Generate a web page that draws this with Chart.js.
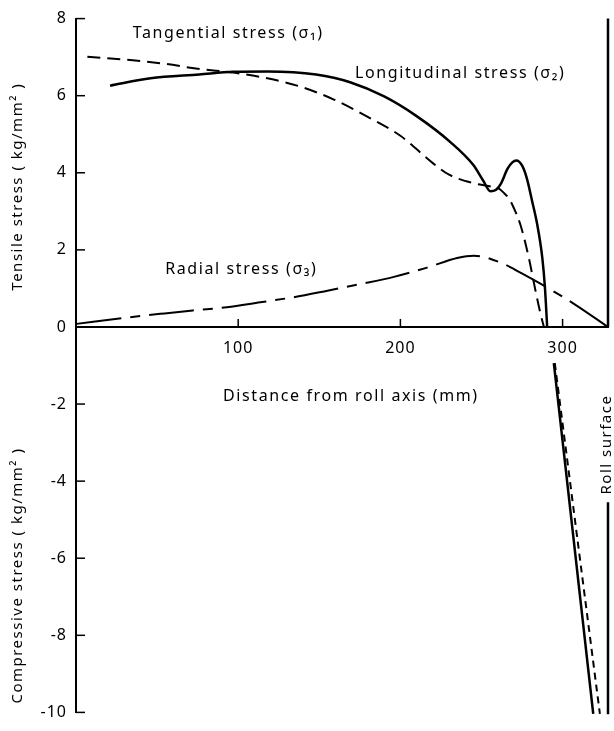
<!DOCTYPE html>
<html>
<head>
<meta charset="utf-8">
<script src="https://cdn.jsdelivr.net/npm/chart.js@4"></script>
<style>
  html, body { margin: 0; padding: 0; background: #fff; }
</style>
</head>
<body>
<canvas id="chart" width="614" height="731"></canvas>
<script>
// distance from roll axis (mm) / stress (kg/mm²)

// longitudinal stress, tensile part
const longDist = [21, 46, 76, 97, 118, 148, 169, 190, 210, 231, 245, 251, 255.5, 259, 262, 266, 269, 271.5, 275, 278, 281.3, 284.4, 287.5, 289.1, 290.5];
const longStress = [6.26, 6.45, 6.55, 6.62, 6.63, 6.55, 6.35, 5.98, 5.47, 4.79, 4.2, 3.8, 3.52, 3.56, 3.72, 4.1, 4.27, 4.32, 4.19, 3.85, 3.25, 2.65, 1.79, 1.03, 0];
// longitudinal stress, compressive part
const longCompDist = [294.6, 318.9];
const longCompStress = [-0.94, -10.04];

// tangential stress
const tangDist = [7, 35, 56, 76.5, 97, 118, 138, 159, 179, 200, 220, 230, 245, 255, 260.7, 264, 267, 270, 274, 279.2, 283.3, 286.4, 288.5];
const tangStress = [7.01, 6.92, 6.82, 6.69, 6.6, 6.45, 6.24, 5.9, 5.47, 4.96, 4.25, 3.95, 3.73, 3.65, 3.59, 3.47, 3.33, 3.08, 2.65, 1.79, 0.94, 0.34, 0];
const tangCompDist = [295.2, 323];
const tangCompStress = [-0.94, -10.04];

// radial stress
const radDist = [0.4, 31, 52, 72, 93, 113.6, 134, 155, 175, 196, 216.5, 235, 245.3, 261.7, 274, 288.5, 307, 328];
const radStress = [0.08, 0.24, 0.34, 0.43, 0.51, 0.64, 0.77, 0.94, 1.11, 1.3, 1.54, 1.79, 1.85, 1.67, 1.41, 1.07, 0.6, 0];

// roll surface
const rollDist = 328;
const rollTop = [0, 8];
const rollBottom = [-4.55, -10.05];

const xTicks = [100, 200, 300];
const yTicks = [8, 6, 4, 2, 0, -2, -4, -6, -8, -10];

const pts = (xs, ys) => xs.map((v, i) => ({ x: v, y: ys[i] }));
const font = '"Noto Sans", sans-serif';

const line = (data, width, dash, smooth) => ({
    data: data,
    borderColor: '#000',
    borderWidth: width,
    borderDash: dash,
    pointRadius: 0,
    fill: false,
    clip: 4,
    cubicInterpolationMode: smooth ? 'monotone' : 'default',
    tension: smooth ? 0.4 : 0
});

// inward tick marks, free labels and rotated titles
const annotate = {
    id: 'annotate',
    beforeDraw(chart) {
        chart.ctx.letterSpacing = '1px';
    },
    afterDraw(chart) {
        const { ctx, scales: { x, y } } = chart;
        const y0 = y.getPixelForValue(0);
        ctx.save();
        ctx.strokeStyle = '#000';
        ctx.lineWidth = 1.5;
        xTicks.forEach(v => {
            const px = x.getPixelForValue(v);
            ctx.beginPath(); ctx.moveTo(px, y0); ctx.lineTo(px, y0 - 8); ctx.stroke();
        });
        yTicks.forEach(v => {
            const py = y.getPixelForValue(v);
            ctx.beginPath(); ctx.moveTo(x.left, py); ctx.lineTo(x.left + 9, py); ctx.stroke();
        });

        ctx.fillStyle = '#000';
        ctx.font = '16px ' + font;
        ctx.letterSpacing = '1.6px';
        ctx.textBaseline = 'middle';
        ctx.textAlign = 'left';
        ctx.fillText('Tangential stress (σ₁)', x.getPixelForValue(35), y.getPixelForValue(7.62));
        ctx.fillText('Longitudinal stress (σ₂)', x.getPixelForValue(172), y.getPixelForValue(6.59));
        ctx.fillText('Radial stress (σ₃)', x.getPixelForValue(55), y.getPixelForValue(1.49));
        ctx.textAlign = 'center';
        ctx.fillText('Distance from roll axis (mm)', x.getPixelForValue(169.5), y.getPixelForValue(-1.8));

        const vtext = (txt, px, py) => {
            ctx.save();
            ctx.translate(px, py);
            ctx.rotate(-Math.PI / 2);
            ctx.fillText(txt, 0, 0);
            ctx.restore();
        };
        ctx.font = '15px ' + font;
        ctx.letterSpacing = '1.5px';
        vtext('Tensile stress ( kg/mm² )', 18, y.getPixelForValue(3.64));
        vtext('Compressive stress ( kg/mm² )', 18, y.getPixelForValue(-6.45));
        vtext('Roll surface', x.getPixelForValue(rollDist) - 1, y.getPixelForValue(-3.05));
        ctx.restore();
        ctx.letterSpacing = '0px';
    }
};

new Chart(document.getElementById('chart'), {
    type: 'line',
    data: {
        datasets: [
            line(pts(longDist, longStress), 2.5, [], true),
            line(pts(longCompDist, longCompStress), 2.5, [], false),
            line(pts(tangDist, tangStress), 2, [13, 7], true),
            line(pts(tangCompDist, tangCompStress), 2, [7, 5], false),
            line(pts(radDist, radStress), 2, [45, 9, 10, 9], true),
            line(pts([rollDist, rollDist], rollTop), 2.5, [], false),
            line(pts([rollDist, rollDist], rollBottom), 2.5, [], false)
        ]
    },
    options: {
        responsive: false,
        animation: false,
        layout: { padding: { top: 18, right: 6, bottom: 11, left: 0 } },
        plugins: { legend: { display: false }, tooltip: { enabled: false } },
        scales: {
            x: {
                type: 'linear',
                min: 0,
                max: 328,
                position: { y: 0 },
                grid: { display: false, drawTicks: false },
                border: { display: true, width: 2, color: '#000' },
                afterBuildTicks: s => { s.ticks = xTicks.map(v => ({ value: v })); },
                ticks: { color: '#000', font: { family: font, size: 16 }, padding: 12, maxRotation: 0 }
            },
            y: {
                type: 'linear',
                min: -10,
                max: 8,
                grid: { display: false, drawTicks: false },
                border: { display: true, width: 2, color: '#000' },
                afterBuildTicks: s => { s.ticks = yTicks.map(v => ({ value: v })); },
                afterFit: s => { s.width = 76; },
                ticks: { color: '#000', font: { family: font, size: 16 }, padding: 9 }
            }
        }
    },
    plugins: [annotate]
});
</script>
</body>
</html>
